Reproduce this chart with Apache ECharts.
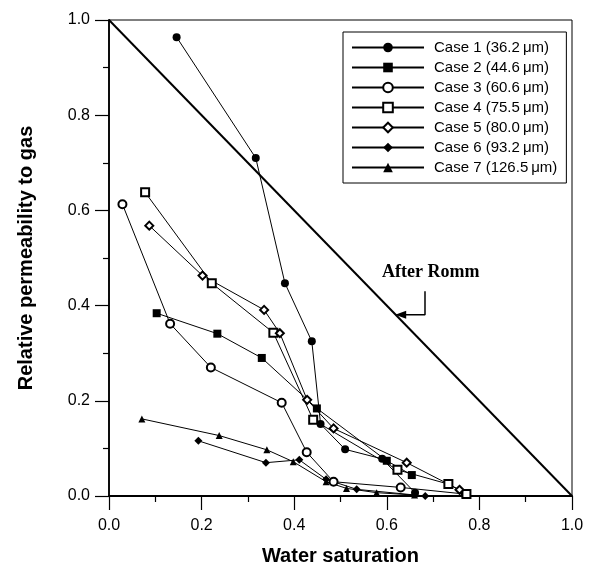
<!DOCTYPE html>
<html>
<head>
  <meta charset="utf-8">
  <title>Relative permeability to gas</title>
  <script type="text/javascript" src="https://cdn.jsdelivr.net/npm/echarts@6/dist/echarts.min.js"></script>
  <style type="text/css">
    * { margin: 0; padding: 0; }
    html, body, #main { width: 595px; height: 581px; overflow: hidden; background: #fff; }
  </style>
</head>
<body>
  <div id="main"></div>
  <script type="text/javascript">
    // values: [water saturation, relative permeability]
    var caseNames = [
      'Case 1 (36.2\u2009\u03bcm)',
      'Case 2 (44.6\u2009\u03bcm)',
      'Case 3 (60.6\u2009\u03bcm)',
      'Case 4 (75.5\u2009\u03bcm)',
      'Case 5 (80.0\u2009\u03bcm)',
      'Case 6 (93.2\u2009\u03bcm)',
      'Case 7 (126.5\u2009\u03bcm)'
    ];
    var case1 = [[0.146, 0.964], [0.317, 0.71], [0.38, 0.447], [0.438, 0.325], [0.457, 0.151], [0.51, 0.098], [0.59, 0.078], [0.661, 0.007]];
    var case2 = [[0.103, 0.384], [0.234, 0.341], [0.33, 0.29], [0.449, 0.184], [0.6, 0.074], [0.654, 0.044]];
    var case3 = [[0.029, 0.613], [0.132, 0.362], [0.22, 0.27], [0.373, 0.196], [0.427, 0.092], [0.485, 0.03], [0.63, 0.018], [0.77, 0.004]];
    var case4 = [[0.078, 0.638], [0.222, 0.447], [0.355, 0.343], [0.441, 0.16], [0.623, 0.055], [0.733, 0.025], [0.772, 0.004]];
    var case5 = [[0.087, 0.568], [0.202, 0.463], [0.335, 0.391], [0.369, 0.342], [0.428, 0.202], [0.485, 0.142], [0.643, 0.07], [0.757, 0.013]];
    var case6 = [[0.193, 0.116], [0.339, 0.07], [0.411, 0.076], [0.469, 0.035], [0.535, 0.014], [0.683, 0.0]];
    var case7 = [[0.071, 0.162], [0.238, 0.127], [0.341, 0.097], [0.398, 0.072], [0.469, 0.03], [0.513, 0.016], [0.578, 0.007], [0.66, 0.002]];
    var rommLine = [[0, 1], [1, 0]];
    var rommArrow = [[0.6825, 0.43], [0.6825, 0.381], [0.632, 0.381]];
    var rommArrowHead = [[0.63, 0.381]];

    var caseData = [case1, case2, case3, case4, case5, case6, case7];
    var caseSymbols = ['circle', 'rect', 'emptyCircle', 'emptyRect', 'emptyDiamond', 'diamond', 'triangle'];
    var caseSizes = [8, 8, 8, 8, 8, 8, 7];

    var font = 'Liberation Sans, Arial, sans-serif';

    var series = caseData.map(function (pts, i) {
      return {
        type: 'line',
        name: caseNames[i],
        data: pts,
        symbol: caseSymbols[i],
        symbolSize: caseSizes[i],
        showAllSymbol: true,
        lineStyle: { color: '#000', width: 1 },
        itemStyle: { color: '#000', borderWidth: 1 },
        z: 3
      };
    });

    series.push({
      type: 'line',
      name: 'After Romm',
      data: rommLine,
      symbol: 'none',
      lineStyle: { color: '#000', width: 2 },
      z: 2
    });

    series.push({
      type: 'line',
      name: 'arrow',
      data: rommArrow,
      symbol: 'none',
      lineStyle: { color: '#000', width: 1.5 },
      z: 4
    });

    series.push({
      type: 'scatter',
      name: 'arrowHead',
      data: rommArrowHead,
      symbol: 'triangle',
      symbolSize: [8, 11],
      symbolRotate: 90,
      itemStyle: { color: '#000', opacity: 1 },
      z: 5
    });

    var option = {
      animation: false,
      backgroundColor: '#fff',
      grid: {
        left: 109, right: 23, top: 20, bottom: 85,
        show: true, borderColor: '#000', borderWidth: 1
      },
      legend: {
        data: caseNames,
        orient: 'vertical',
        left: 343, top: 32,
        itemWidth: 72, itemHeight: 12, itemGap: 5,
        padding: [8, 9, 8, 8],
        borderColor: '#000', borderWidth: 1,
        backgroundColor: '#fff',
        textStyle: { fontFamily: font, fontSize: 15, color: '#000', padding: [0, 0, 0, 5] }
      },
      graphic: [{
        type: 'text',
        left: 382, top: 263,
        style: { text: 'After Romm', font: 'bold 18px "Liberation Serif", "Times New Roman", serif', fill: '#000' }
      }],
      xAxis: {
        type: 'value', min: 0, max: 1, interval: 0.2,
        name: 'Water saturation', nameLocation: 'middle', nameGap: 50,
        nameTextStyle: { fontFamily: font, fontSize: 20, fontWeight: 'bold', color: '#000' },
        axisLine: { show: true, lineStyle: { color: '#000', width: 1.8 } },
        axisTick: { show: true, length: 14, lineStyle: { color: '#000', width: 1.2 } },
        minorTick: { show: true, splitNumber: 2, length: 6, lineStyle: { color: '#000', width: 1.2 } },
        splitLine: { show: false },
        axisLabel: { fontFamily: font, fontSize: 16, color: '#000', margin: 22,
          formatter: function (v) { return v.toFixed(1); } }
      },
      yAxis: {
        type: 'value', min: 0, max: 1, interval: 0.2,
        name: 'Relative permeability to gas', nameLocation: 'middle', nameGap: 73,
        nameTextStyle: { fontFamily: font, fontSize: 20, fontWeight: 'bold', color: '#000' },
        axisLine: { show: true, lineStyle: { color: '#000', width: 1.8 } },
        axisTick: { show: true, length: 14, lineStyle: { color: '#000', width: 1.2 } },
        minorTick: { show: true, splitNumber: 2, length: 6, lineStyle: { color: '#000', width: 1.2 } },
        splitLine: { show: false },
        axisLabel: { fontFamily: font, fontSize: 16, color: '#000', margin: 19,
          formatter: function (v) { return v.toFixed(1); } }
      },
      series: series
    };

    var chart = echarts.init(document.getElementById('main'));
    chart.setOption(option);
  </script>
</body>
</html>
